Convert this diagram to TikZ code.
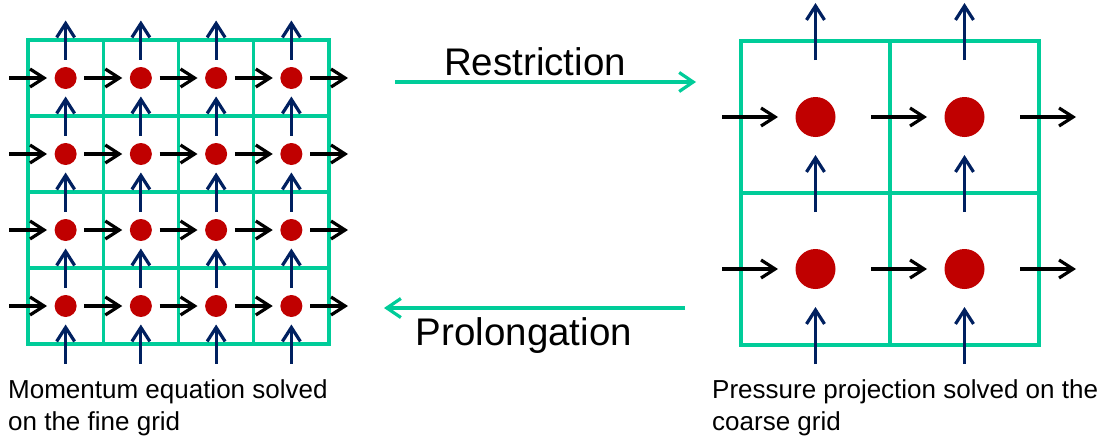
\documentclass[tikz,border=0pt]{standalone}
\usepackage{fontspec}
\setmainfont{Liberation Sans}
\usetikzlibrary{arrows.meta}
\definecolor{gridgreen}{RGB}{0,204,153}
\definecolor{dotred}{RGB}{192,0,0}
\definecolor{fluxnavy}{RGB}{0,32,96}
\tikzset{
  gridline/.style={draw=gridgreen, line width=3.2pt, line cap=rect},
  flux/.style={line width=3.2pt, -{Straight Barb[length=14pt,width=18pt]}},
  uflux/.style={flux, draw=black},
  vflux/.style={flux, draw=fluxnavy},
  pdot/.style={circle, fill=dotred, inner sep=0pt, minimum size=#1},
  transfer/.style={draw=gridgreen, line width=3.2pt, -{Straight Barb[length=14pt,width=19pt]}},
  biglabel/.style={font=\fontsize{38.5}{40}\selectfont, inner sep=0pt, anchor=base},
  caption/.style={font=\fontsize{26}{32}\selectfont, inner sep=0pt, anchor=base west},
}
\begin{document}
\begin{tikzpicture}[x=1pt,y=-1pt]
\useasboundingbox (0,0) rectangle (1115,439);

% ---------- fine grid ----------
\foreach \i in {0,...,4}{
  \draw[gridline] ({28+75.25*\i},40) -- ({28+75.25*\i},344);
  \draw[gridline] (28,{40+76*\i}) -- (329,{40+76*\i});
}
\foreach \i in {0,...,3}{
  \foreach \j in {0,...,3}{
    \node[pdot=22pt] (f-\i-\j) at ({28+75.25*(\i+0.5)},{40+76*(\j+0.5)}) {};
  }
}
% horizontal fluxes (fine)
\foreach \i in {0,...,4}{
  \foreach \j in {0,...,3}{
    \coordinate (fu-\i-\j-a) at ({28+75.25*\i-19},{40+76*(\j+0.5)});
    \coordinate (fu-\i-\j-b) at ({28+75.25*\i+19},{40+76*(\j+0.5)});
    \draw[uflux] (fu-\i-\j-a) -- (fu-\i-\j-b);
  }
}
% vertical fluxes (fine)
\foreach \i in {0,...,3}{
  \foreach \j in {0,...,4}{
    \coordinate (fv-\i-\j-a) at ({28+75.25*(\i+0.5)},{40+76*\j+19.5});
    \coordinate (fv-\i-\j-b) at ({28+75.25*(\i+0.5)},{40+76*\j-19.5});
    \draw[vflux] (fv-\i-\j-a) -- (fv-\i-\j-b);
  }
}

% ---------- coarse grid ----------
\foreach \i in {0,...,2}{
  \draw[gridline] ({741+149*\i},41) -- ({741+149*\i},345);
  \draw[gridline] (741,{41+152*\i}) -- (1039,{41+152*\i});
}
\foreach \i in {0,1}{
  \foreach \j in {0,1}{
    \node[pdot=40pt] (c-\i-\j) at ({741+149*(\i+0.5)},{41+152*(\j+0.5)}) {};
  }
}
\foreach \i in {0,...,2}{
  \foreach \j in {0,1}{
    \coordinate (cu-\i-\j-a) at ({741+149*\i-19},{41+152*(\j+0.5)});
    \coordinate (cu-\i-\j-b) at ({741+149*\i+37},{41+152*(\j+0.5)});
    \draw[uflux] (cu-\i-\j-a) -- (cu-\i-\j-b);
  }
}
\foreach \i in {0,1}{
  \foreach \j in {0,...,2}{
    \coordinate (cv-\i-\j-a) at ({741+149*(\i+0.5)},{41+152*\j+19});
    \coordinate (cv-\i-\j-b) at ({741+149*(\i+0.5)},{41+152*\j-38});
    \draw[vflux] (cv-\i-\j-a) -- (cv-\i-\j-b);
  }
}

% ---------- transfer arrows ----------
\coordinate (r-a) at (395,82);
\coordinate (r-b) at (696,82);
\draw[transfer] (r-a) -- (r-b);
\node[biglabel] (restr) at (535,75) {Restriction};

\coordinate (p-a) at (685,308);
\coordinate (p-b) at (384,308);
\draw[transfer] (p-a) -- (p-b);
\node[biglabel] (prolong) at (524,345) {Prolongation};

% ---------- captions ----------
\node[caption] (capf1) at (8,398) {Momentum equation solved};
\node[caption] (capf2) at (8,430) {on the fine grid};
\node[caption] (capc1) at (712,398) {Pressure projection solved on the};
\node[caption] (capc2) at (712,430) {coarse grid};
\end{tikzpicture}
\end{document}
